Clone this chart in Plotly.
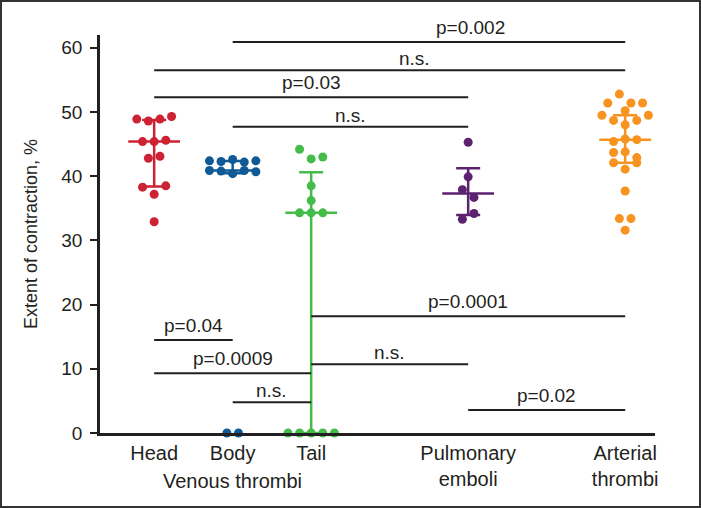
import numpy as np
import plotly.graph_objects as go

# ---------------- data ----------------
categories = ["Head", "Body", "Tail", "Pulmonary<br>emboli", "Arterial<br>thrombi"]
group_label = "Venous thrombi"

head = [48.9, 48.6, 48.9, 49.3, 45.4, 45.4, 45.6, 42.8, 43.1, 38.3, 37.2, 38.5, 32.9]
body = [42.4, 42.3, 42.6, 42.2, 42.4, 40.9, 40.8, 40.4, 40.9, 40.7, 0, 0]
tail = [44.2, 42.7, 43.0, 38.5, 36.2, 34.3, 34.3, 34.3, 0, 0, 0, 0, 0]
pulmonary = [45.3, 39.9, 37.9, 36.7, 33.3, 34.2]
arterial = [51.4, 52.8, 51.4, 51.4, 49.5, 48.7, 50.2, 48.7, 49.5, 48.0,
            45.4, 45.8, 45.7, 43.7, 43.8, 42.9, 42.1, 41.1, 42.1, 37.7,
            33.4, 33.4, 31.6]
series = [head, body, tail, pulmonary, arterial]

# comparisons: (group a, group b, bracket level, label)
comp_a = [1, 0, 0, 1, 2, 0, 2, 0, 1, 3]
comp_b = [4, 4, 3, 3, 4, 1, 3, 2, 2, 4]
comp_level = [60.9, 56.5, 52.3, 47.7, 18.2, 14.5, 10.7, 9.3, 4.8, 3.6]
comp_text = ["p=0.002", "n.s.", "p=0.03", "n.s.", "p=0.0001", "p=0.04",
             "n.s.", "p=0.0009", "n.s.", "p=0.02"]

y_ticks = [0, 10, 20, 30, 40, 50, 60]

# ---------------- layout / style ----------------
colors = ["#CC2233", "#0F5A96", "#43BC4A", "#5B226F", "#F7931E"]
group_x = [0, 1, 2, 4, 6]
label_x_override = {0: 4.03, 1: 3.31}
W, H = 701, 508
ML, MR, MT, MB = 100, 46, 35, 75
xr = [-0.69, 6.38]
yr = [0, 62]
pw = W - ML - MR
ph = H - MT - MB
ux = pw / (xr[1] - xr[0])
spacing = 11.6 / ux
bin_h = 1.6
ink = "#231F20"
font = "Liberation Sans, Arial, Helvetica, sans-serif"


def swarm(vals):
    idx = sorted(range(len(vals)), key=lambda i: -vals[i])
    bins = []
    for i in idx:
        if bins and vals[bins[-1][0]] - vals[i] <= bin_h + 1e-9:
            bins[-1].append(i)
        else:
            bins.append([i])
    off = [0.0] * len(vals)
    for b in bins:
        b = sorted(b)
        n = len(b)
        for k, i in enumerate(b):
            off[i] = (k - (n - 1) / 2) * spacing
    return off


fig = go.Figure()
for vals, cx, col in zip(series, group_x, colors):
    v = np.array(vals, dtype=float)
    q1, med, q3 = np.percentile(v, [25, 50, 75], method="weibull")
    # IQR bar
    fig.add_trace(go.Scatter(
        x=[cx], y=[med], mode="markers", marker=dict(size=1, color=col),
        error_y=dict(type="data", symmetric=False, array=[q3 - med],
                     arrayminus=[med - q1], color=col, thickness=2.5, width=12),
        cliponaxis=False, hoverinfo="skip", showlegend=False))
    # median line
    fig.add_trace(go.Scatter(
        x=[cx - 0.33, cx + 0.33], y=[med, med], mode="lines",
        line=dict(color=col, width=2.5), cliponaxis=False,
        hoverinfo="skip", showlegend=False))
    # points
    off = swarm(vals)
    fig.add_trace(go.Scatter(
        x=[cx + o for o in off], y=vals, mode="markers",
        marker=dict(size=9, color=col, line=dict(width=0)),
        cliponaxis=False, showlegend=False))

shapes = []
annotations = []
for k, (a, b, lv, txt) in enumerate(zip(comp_a, comp_b, comp_level, comp_text)):
    xa, xb = group_x[a], group_x[b]
    shapes.append(dict(type="line", xref="x", yref="y", x0=xa, x1=xb, y0=lv, y1=lv,
                       line=dict(color=ink, width=2)))
    lx = label_x_override.get(k, (xa + xb) / 2)
    annotations.append(dict(x=lx, y=lv, xref="x", yref="y", text=txt,
                            showarrow=False, yanchor="bottom",
                            yshift=(-1 if txt.startswith("n.s") else 2),
                            font=dict(size=19, color=ink, family=font)))

annotations.append(dict(x=(group_x[0] + group_x[2]) / 2, y=0, xref="x", yref="paper",
                        text=group_label, showarrow=False, yanchor="top", yshift=-35,
                        font=dict(size=20, color=ink, family=font)))

# outer frame
shapes.append(dict(type="rect", xref="paper", yref="paper",
                   x0=-(ML - 1) / pw, x1=1 + (MR - 1) / pw,
                   y0=-(MB - 1) / ph, y1=1 + (MT - 1) / ph,
                   line=dict(color="#333333", width=2)))

fig.update_layout(
    width=W, height=H,
    margin=dict(l=ML, r=MR, t=MT, b=MB),
    paper_bgcolor="white", plot_bgcolor="white",
    font=dict(family=font, size=18, color=ink),
    shapes=shapes, annotations=annotations,
    xaxis=dict(range=xr, tickvals=group_x, ticktext=categories, ticks="",
               showline=True, linewidth=2.5, linecolor=ink, showgrid=False,
               zeroline=False, tickfont=dict(size=20, color=ink, family=font)),
    yaxis=dict(range=yr, tickvals=y_ticks, ticks="outside", ticklen=7, tickwidth=2,
               tickcolor=ink, showline=True, linewidth=2.5, linecolor=ink,
               showgrid=False, zeroline=False, ticklabelstandoff=4,
               tickfont=dict(size=19, color=ink, family=font),
               title=dict(text="Extent of contraction, %", standoff=20,
                          font=dict(size=18, color=ink, family=font))),
)

fig.write_html("out.html", config={"displayModeBar": False},
               post_script="document.body.style.margin='0';document.body.style.overflow='hidden';")
